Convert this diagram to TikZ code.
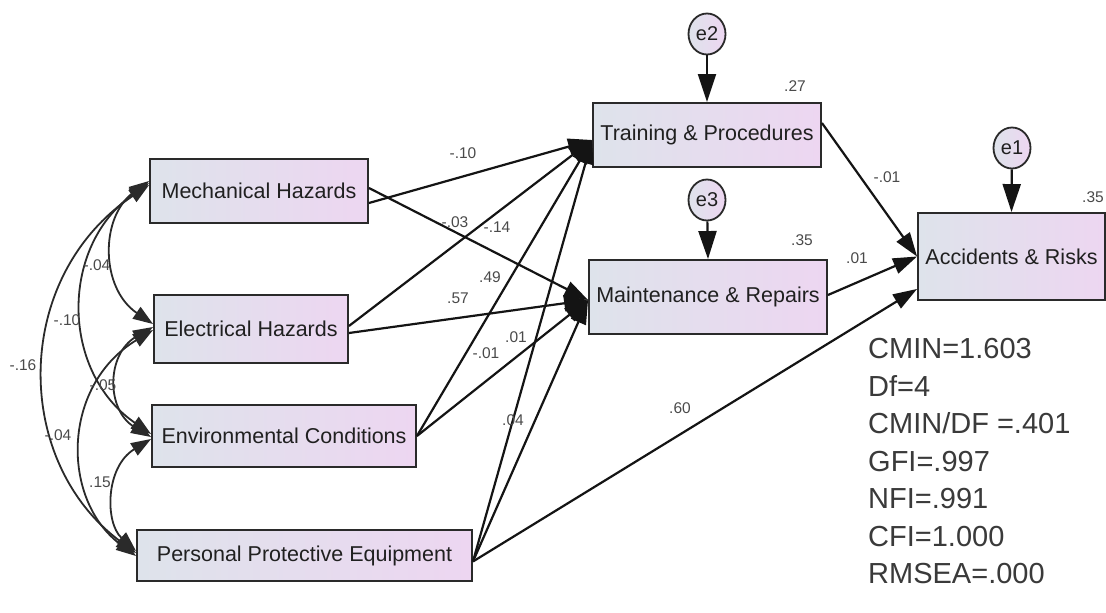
\documentclass[tikz,border=0pt]{standalone}
\usepackage{fontspec}
\setmainfont{Liberation Sans}
\usetikzlibrary{arrows.meta,shapes.geometric}
\definecolor{boxleft}{HTML}{DEE3EB}
\definecolor{boxright}{HTML}{EDD6F1}
\definecolor{boxborder}{HTML}{2A2A2A}
\definecolor{boxtext}{HTML}{202020}
\definecolor{labtext}{HTML}{4A4A4A}
\definecolor{stattext}{HTML}{3A3A3A}
\definecolor{linecol}{HTML}{141414}
\begin{document}
\begin{tikzpicture}[x=1pt,y=-1pt,
  box/.style={draw=boxborder, line width=1.9pt, left color=boxleft, right color=boxright,
    inner sep=0pt, font=\fontsize{21.5}{24}\selectfont, text=boxtext},
  errnode/.style={ellipse, draw=boxborder, line width=1.8pt, left color=boxleft, right color=boxright,
    inner sep=0pt, minimum width=37pt, minimum height=41pt, font=\fontsize{20}{22}\selectfont, text=boxtext},
  patharrow/.style={draw=linecol, line width=2.2pt, -{Triangle[length=24pt,width=16pt]}},
  errarrow/.style={draw=linecol, line width=2.2pt, -{Triangle[length=28pt,width=18pt]}},
  cov/.style={draw=boxborder, line width=1.8pt, {Triangle[length=20pt,width=14pt]}-{Triangle[length=20pt,width=14pt]}},
  lab/.style={font=\fontsize{15.5}{17}\selectfont, text=labtext, inner sep=0pt},
  stat/.style={font=\fontsize{29}{32}\selectfont, text=stattext, inner sep=0pt, anchor=base west}
]
\useasboundingbox (0,0) rectangle (1106,613);
\fill[white] (0,0) rectangle (1106,613);

% exogenous boxes
\node[box, minimum width=218pt, minimum height=64pt] (mech) at (259,191) {Mechanical Hazards};
\node[box, minimum width=194pt, minimum height=68pt] (elec) at (251,329) {Electrical Hazards};
\node[box, minimum width=264pt, minimum height=62pt] (env) at (284,436) {Environmental Conditions};
\node[box, minimum width=335pt, minimum height=51pt] (ppe) at (304.5,555.5) {Personal Protective Equipment};

% endogenous boxes
\node[box, minimum width=228pt, minimum height=64pt] (train) at (707,135) {Training \& Procedures};
\node[box, minimum width=238pt, minimum height=74pt] (maint) at (708,297) {Maintenance \& Repairs};
\node[box, minimum width=187pt, minimum height=87pt] (acc) at (1011.5,256.5) {Accidents \& Risks};

% error terms
\node[errnode] (e2) at (707,34) {e2};
\node[errnode] (e3) at (707,200) {e3};
\node[errnode] (e1) at (1012,148) {e1};
\draw[errarrow] (e2) -- (train.north);
\draw[errarrow] (e3) -- (maint.north);
\draw[errarrow] (e1) -- (acc.north);

% covariances
\draw[cov] ([yshift=10pt]mech.west) .. controls (100,217) and (100,288) .. ([yshift=5pt]elec.west);
\draw[cov] ([yshift=8pt]mech.west) .. controls (60,246) and (60,371) .. ([yshift=2pt]env.west);
\draw[cov] ([yshift=6pt]mech.west) .. controls (12,277) and (12,461) .. ([yshift=2.5pt]ppe.west);
\draw[cov] ([yshift=2pt]elec.west) .. controls (106,354) and (106,410) .. ([yshift=-1pt]env.west);
\draw[cov] ([yshift=-1pt]elec.west) .. controls (61,386) and (61,500) .. ([yshift=-0.5pt]ppe.west);
\draw[cov] ([yshift=-3pt]env.west) .. controls (105,467) and (105,523) .. ([yshift=4.5pt]ppe.west);

% regression paths
\draw[patharrow] ([yshift=-12pt]mech.east) -- ([yshift=-5pt]train.west);
\draw[patharrow] ([yshift=3pt]mech.east) -- ([yshift=-3pt]maint.west);
\draw[patharrow] ([yshift=3pt]elec.east) -- ([yshift=-5pt]train.west);
\draw[patharrow] ([yshift=-4pt]elec.east) -- ([yshift=-3pt]maint.west);
\draw[patharrow] (env.east) -- ([yshift=-5pt]train.west);
\draw[patharrow] (env.east) -- ([yshift=-3pt]maint.west);
\draw[patharrow] ([yshift=-6pt]ppe.east) -- ([yshift=-5pt]train.west);
\draw[patharrow] ([yshift=-6pt]ppe.east) -- ([yshift=-3pt]maint.west);
\draw[patharrow] ([yshift=-6pt]ppe.east) -- ([yshift=12pt]acc.south west);
\draw[patharrow] ([yshift=12pt]train.east) -- (acc.west);
\draw[patharrow] ([yshift=2pt]maint.east) -- (acc.west);

% squared multiple correlations
\node[lab] (r2t) at (795,86) {.27};
\node[lab] (r2m) at (802,240) {.35};
\node[lab] (r2a) at (1093,197) {.35};

% path coefficients
\node[lab] (l1) at (463,153) {-.10};
\node[lab] (l2) at (455,222) {-.03};
\node[lab] (l3) at (497,227) {-.14};
\node[lab] (l4) at (490,277) {.49};
\node[lab] (l5) at (458,298) {.57};
\node[lab] (l6) at (516,337) {.01};
\node[lab] (l7) at (486,353) {-.01};
\node[lab] (l8) at (513,420) {.04};
\node[lab] (l9) at (680,408) {.60};
\node[lab] (l10) at (887,177) {-.01};
\node[lab] (l11) at (857,258) {.01};

% covariance labels
\node[lab] (c1) at (97,265) {-.04};
\node[lab] (c2) at (67,320) {-.10};
\node[lab] (c3) at (23,365) {-.16};
\node[lab] (c4) at (103,385) {-.05};
\node[lab] (c5) at (58,435) {-.04};
\node[lab] (c6) at (100,482) {.15};

% fit statistics
\node[stat] (s1) at (868,358.5) {CMIN=1.603};
\node[stat] (s2) at (868,396) {Df=4};
\node[stat] (s3) at (868,433.5) {CMIN/DF =.401};
\node[stat] (s4) at (868,471) {GFI=.997};
\node[stat] (s5) at (868,508.5) {NFI=.991};
\node[stat] (s6) at (868,546) {CFI=1.000};
\node[stat] (s7) at (868,583.5) {RMSEA=.000};
\end{tikzpicture}
\end{document}
